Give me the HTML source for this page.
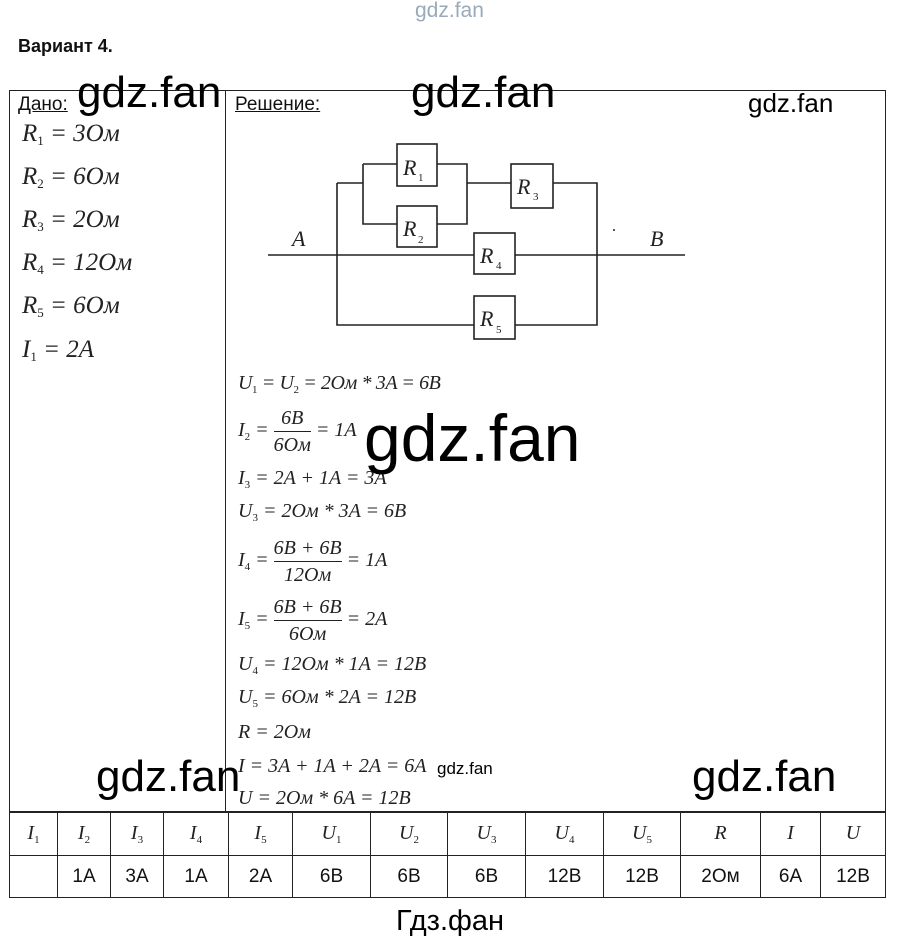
<!DOCTYPE html>
<html><head><meta charset="utf-8"><style>
body{margin:0;width:897px;height:943px;background:#fff;position:relative;overflow:hidden;font-family:"Liberation Sans",sans-serif;color:#111}
.a{position:absolute;white-space:nowrap}
.m{font-family:"Liberation Serif",serif;font-style:italic;color:#222;font-size:20px}
.m sub{font-size:11px;font-style:normal;vertical-align:-4px}
.d{font-size:25px}
.d sub{font-size:13px}
.w{font-family:"Liberation Sans","DejaVu Sans",sans-serif;color:#000}
.fr{display:inline-block;vertical-align:middle;text-align:center}
.fr span{display:block;line-height:26px}
.fr span.t{border-bottom:1px solid #222}
table{position:absolute;left:9px;top:811px;border-collapse:collapse}
td{border:1px solid #222;padding:0;font-size:19px;text-align:center}
</style></head><body>
<div class="a" style="left:415px;top:-1px;font-size:21px;color:#9ab">gdz.fan</div>
<div class="a" style="left:18px;top:36px;font-size:18px;font-weight:bold">Вариант 4.</div>
<div class="a" style="left:9px;top:90px;width:875px;height:721px;border:1px solid #222"></div>
<div class="a" style="left:225px;top:90px;width:1px;height:721px;background:#222"></div>
<div class="a" style="left:18px;top:94px;font-size:19px;text-decoration:underline">Дано:</div>
<div class="a" style="left:235px;top:94px;font-size:19px;text-decoration:underline">Решение:</div>
<div class="a m d" style="left:22px;top:120px">R<sub>1</sub> = 3Ом</div>
<div class="a m d" style="left:22px;top:163px">R<sub>2</sub> = 6Ом</div>
<div class="a m d" style="left:22px;top:206px">R<sub>3</sub> = 2Ом</div>
<div class="a m d" style="left:22px;top:249px">R<sub>4</sub> = 12Ом</div>
<div class="a m d" style="left:22px;top:292px">R<sub>5</sub> = 6Ом</div>
<div class="a m d" style="left:22px;top:336px">I<sub>1</sub> = 2A</div>
<svg class="a" style="left:0;top:0" width="897" height="400">
<g stroke="#222" stroke-width="1.6" fill="none">
<path d="M268 255H474M515 255H685M337 183V325H474M515 325H597V183H553M511 183H467M337 183H363M363 164V224H397M437 224H467V164H437M397 164H363"/>
<rect x="397" y="144" width="40" height="42"/><rect x="397" y="206" width="40" height="41"/>
<rect x="511" y="164" width="42" height="44"/><rect x="474" y="233" width="41" height="41"/><rect x="474" y="296" width="41" height="43"/>
</g>
<g font-family="Liberation Serif" font-style="italic" font-size="22" fill="#222">
<text x="403" y="175">R</text><text x="418" y="181" font-size="11" font-style="normal">1</text>
<text x="403" y="236">R</text><text x="418" y="243" font-size="11" font-style="normal">2</text>
<text x="517" y="194">R</text><text x="533" y="200" font-size="11" font-style="normal">3</text>
<text x="480" y="263">R</text><text x="496" y="269" font-size="11" font-style="normal">4</text>
<text x="480" y="326">R</text><text x="496" y="333" font-size="11" font-style="normal">5</text>
<text x="292" y="246">A</text><text x="650" y="246">B</text>
</g><circle cx="614" cy="230" r="1" fill="#222"/>
</svg>
<div class="a m" style="left:238px;top:372px;letter-spacing:-0.4px">U<sub>1</sub> = U<sub>2</sub> = 2Ом * 3A = 6B</div>
<div class="a m" style="left:238px;top:405px">I<sub>2</sub> = <span class="fr"><span class="t">6B</span><span>6Ом</span></span> = 1A</div>
<div class="a m" style="left:238px;top:467px">I<sub>3</sub> = 2A + 1A = 3A</div>
<div class="a m" style="left:238px;top:500px">U<sub>3</sub> = 2Ом * 3A = 6B</div>
<div class="a m" style="left:238px;top:535px">I<sub>4</sub> = <span class="fr"><span class="t">6B + 6B</span><span>12Ом</span></span> = 1A</div>
<div class="a m" style="left:238px;top:594px">I<sub>5</sub> = <span class="fr"><span class="t">6B + 6B</span><span>6Ом</span></span> = 2A</div>
<div class="a m" style="left:238px;top:653px">U<sub>4</sub> = 12Ом * 1A = 12B</div>
<div class="a m" style="left:238px;top:686px">U<sub>5</sub> = 6Ом * 2A = 12B</div>
<div class="a m" style="left:238px;top:721px">R = 2Ом</div>
<div class="a m" style="left:238px;top:755px">I = 3A + 1A + 2A = 6A</div>
<div class="a m" style="left:238px;top:787px">U = 2Ом * 6A = 12B</div>
<div class="a w" style="left:77px;top:68px;font-size:44px">gdz.fan</div>
<div class="a w" style="left:411px;top:68px;font-size:44px">gdz.fan</div>
<div class="a w" style="left:748px;top:88px;font-size:26px">gdz.fan</div>
<div class="a w" style="left:364px;top:400px;font-size:66px">gdz.fan</div>
<div class="a w" style="left:96px;top:752px;font-size:44px">gdz.fan</div>
<div class="a w" style="left:692px;top:752px;font-size:44px">gdz.fan</div>
<div class="a w" style="left:437px;top:759px;font-size:17px">gdz.fan</div>
<table>
<tr style="height:44px" class="m">
<td style="width:47px" class="m">I<sub>1</sub></td><td style="width:52px" class="m">I<sub>2</sub></td><td style="width:52px" class="m">I<sub>3</sub></td><td style="width:64px" class="m">I<sub>4</sub></td><td style="width:63px" class="m">I<sub>5</sub></td><td style="width:77px" class="m">U<sub>1</sub></td><td style="width:76px" class="m">U<sub>2</sub></td><td style="width:77px" class="m">U<sub>3</sub></td><td style="width:77px" class="m">U<sub>4</sub></td><td style="width:76px" class="m">U<sub>5</sub></td><td style="width:79px" class="m">R</td><td style="width:59px" class="m">I</td><td style="width:64px" class="m">U</td></tr>
<tr style="height:42px"><td></td><td>1A</td><td>3A</td><td>1A</td><td>2A</td><td>6B</td><td>6B</td><td>6B</td><td>12B</td><td>12B</td><td>2Ом</td><td>6A</td><td>12B</td></tr>
</table>
<div class="a w" style="left:396px;top:905px;font-size:29px">Гдз.фан</div>
</body></html>
